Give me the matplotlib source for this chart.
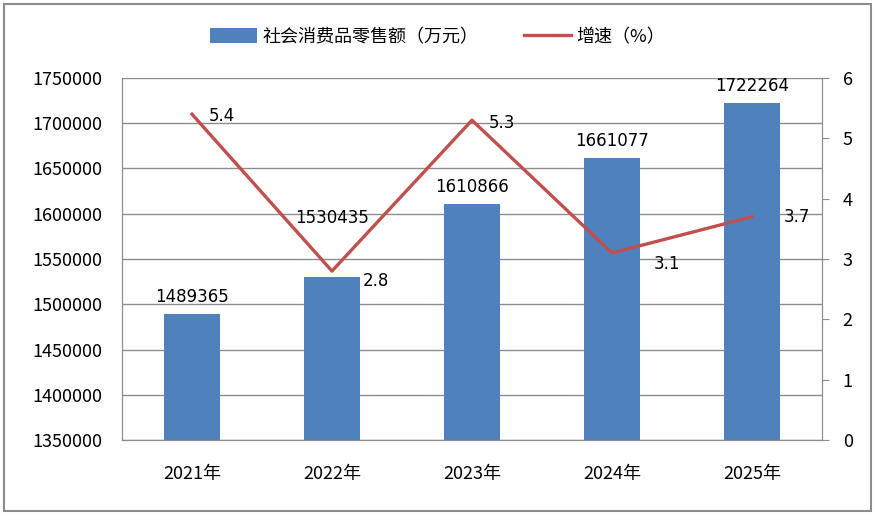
import matplotlib.pyplot as plt
from matplotlib.patches import Rectangle
from matplotlib.ticker import FuncFormatter

plt.rcParams['font.family'] = ['Noto Sans CJK SC', 'DejaVu Sans']

years = ["2021年", "2022年", "2023年", "2024年", "2025年"]
retail_sales = [1489365, 1530435, 1610866, 1661077, 1722264]
growth_rate = [5.4, 2.8, 5.3, 3.1, 3.7]

# label offsets in points (Excel moved a couple of them around)
bar_label_offsets = [(0, 6), (0, 36), (0, 6), (0, 6), (0, 6)]
line_label_offsets = [(12, -1), (22, -7), (12, -2), (30, -8), (23, 0)]

bar_color = "#4F81BD"
line_color = "#C0504D"
grid_color = "#8C8C8C"

fig = plt.figure(figsize=(8.75, 5.15), dpi=100)
ax = fig.add_axes([0.1394, 0.1456, 0.8, 0.703])
ax2 = ax.twinx()

x = list(range(len(years)))
bars = ax.bar(x, retail_sales, width=0.4, color=bar_color,
              label="社会消费品零售额（万元）", zorder=2)
line, = ax2.plot(x, growth_rate, color=line_color, linewidth=2.4,
                 label="增速（%）", zorder=3)

ax.set_ylim(1350000, 1750000)
ax.set_yticks(range(1350000, 1750001, 50000))
ax.yaxis.set_major_formatter(FuncFormatter(lambda v, p: "%d" % v))
ax.set_xlim(-0.5, len(years) - 0.5)
ax.set_xticks(x)
ax.set_xticklabels(years)
ax2.set_ylim(0, 6)
ax2.set_yticks(range(0, 7))

ax.grid(axis="y", color=grid_color, linewidth=1, zorder=0)
ax.set_axisbelow(True)
for a in (ax, ax2):
    a.spines["top"].set_visible(False)
    for side in ("left", "right", "bottom"):
        a.spines[side].set_color(grid_color)
ax.tick_params(axis="y", length=0, pad=14, labelsize=13)
ax.tick_params(axis="x", length=0, pad=18, labelsize=13)
ax2.tick_params(axis="y", length=5, color=grid_color, pad=10, labelsize=13)

for i, v in enumerate(retail_sales):
    ax.annotate(str(v), (x[i], v), xytext=bar_label_offsets[i],
                textcoords="offset points", ha="center", va="bottom",
                fontsize=12, family="DejaVu Sans", zorder=4)
for i, v in enumerate(growth_rate):
    ax2.annotate(str(v), (x[i], v), xytext=line_label_offsets[i],
                 textcoords="offset points", ha="left", va="center",
                 fontsize=12, family="DejaVu Sans", zorder=4)

fig.legend(handles=[bars, line], loc="center", bbox_to_anchor=(0.5, 0.928),
           ncol=2, frameon=False, fontsize=13, handlelength=2.6,
           handleheight=0.9, columnspacing=2.5, handletextpad=0.3)

fig.patches.append(Rectangle((0.005, 0.008), 0.99, 0.984, transform=fig.transFigure,
                             fill=False, edgecolor="#8C8C8C", linewidth=1.5))

fig.savefig("out.png", dpi=100)
